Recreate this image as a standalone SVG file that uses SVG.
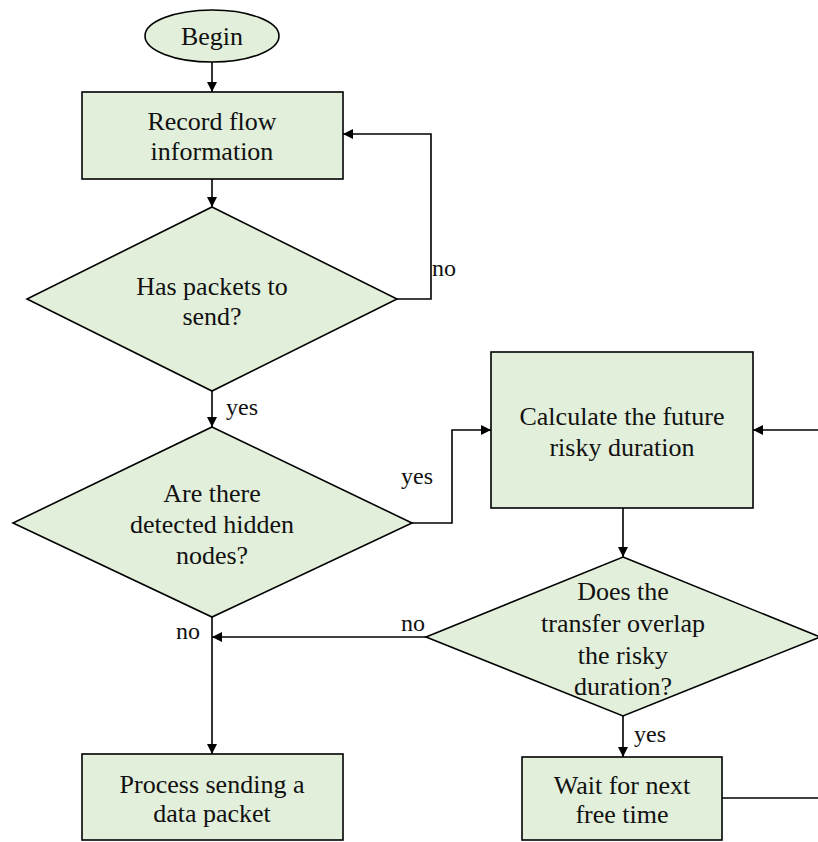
<svg xmlns="http://www.w3.org/2000/svg" width="818" height="842" viewBox="0 0 818 842">
  <style>
    .shape { fill: #e2efda; stroke: #000; stroke-width: 1.6; }
    .edge { fill: none; stroke: #000; stroke-width: 1.6; }
    text { font-family: "Liberation Serif", "Times New Roman", serif; font-size: 26px; fill: #111; text-anchor: middle; }
    .lbl { font-size: 24px; text-anchor: start; }
  </style>
  <defs>
    <marker id="arrow" markerWidth="10" markerHeight="10" refX="10" refY="5" orient="auto" markerUnits="userSpaceOnUse">
      <path d="M0,0 L10,5 L0,10 Z" fill="#000"/>
    </marker>
  </defs>
  <rect width="818" height="842" fill="#fff"/>

  <g id="connectors">
    <path class="edge" d="M212,62 V92" marker-end="url(#arrow)"/>
    <path class="edge" d="M212,179 V207" marker-end="url(#arrow)"/>
    <path class="edge" d="M397,299 H431 V134 H343" marker-end="url(#arrow)"/>
    <path class="edge" d="M212,391 V427" marker-end="url(#arrow)"/>
    <path class="edge" d="M412,523 H452 V430 H491" marker-end="url(#arrow)"/>
    <path class="edge" d="M818,430 H753" marker-end="url(#arrow)"/>
    <path class="edge" d="M623,508 V557" marker-end="url(#arrow)"/>
    <path class="edge" d="M426,637 H212" marker-end="url(#arrow)"/>
    <path class="edge" d="M212,617 V754" marker-end="url(#arrow)"/>
    <path class="edge" d="M623,716 V757" marker-end="url(#arrow)"/>
    <path class="edge" d="M722,798 H818"/>
    <text class="lbl" x="432" y="276">no</text>
    <text class="lbl" x="226" y="415">yes</text>
    <text class="lbl" x="401" y="484">yes</text>
    <text class="lbl" x="401" y="631">no</text>
    <text class="lbl" x="176" y="639">no</text>
    <text class="lbl" x="634" y="742">yes</text>
  </g>

  <g id="begin">
    <ellipse class="shape" cx="212" cy="36" rx="67" ry="26"/>
    <text x="212" y="45">Begin</text>
  </g>

  <g id="record">
    <rect class="shape" x="82" y="92" width="261" height="87"/>
    <text x="212" y="130">Record flow</text>
    <text x="212" y="160">information</text>
  </g>

  <g id="has-packets">
    <polygon class="shape" points="212,207 397,299 212,391 27,299"/>
    <text x="212" y="295">Has packets to</text>
    <text x="212" y="325">send?</text>
  </g>

  <g id="hidden-nodes">
    <polygon class="shape" points="212,427 412,523 212,617 13,523"/>
    <text x="212" y="502">Are there</text>
    <text x="212" y="533">detected hidden</text>
    <text x="212" y="564">nodes?</text>
  </g>

  <g id="calculate">
    <rect class="shape" x="491" y="352" width="262" height="156"/>
    <text x="622" y="425">Calculate the future</text>
    <text x="622" y="456">risky duration</text>
  </g>

  <g id="overlap">
    <polygon class="shape" points="623,557 820,637 623,716 426,637"/>
    <text x="623" y="600">Does the</text>
    <text x="623" y="632">transfer overlap</text>
    <text x="623" y="664">the risky</text>
    <text x="623" y="695">duration?</text>
  </g>

  <g id="process">
    <rect class="shape" x="82" y="754" width="261" height="86"/>
    <text x="212" y="793">Process sending a</text>
    <text x="212" y="822">data packet</text>
  </g>

  <g id="wait">
    <rect class="shape" x="522" y="757" width="200" height="83"/>
    <text x="622" y="794">Wait for next</text>
    <text x="622" y="823">free time</text>
  </g>
</svg>
